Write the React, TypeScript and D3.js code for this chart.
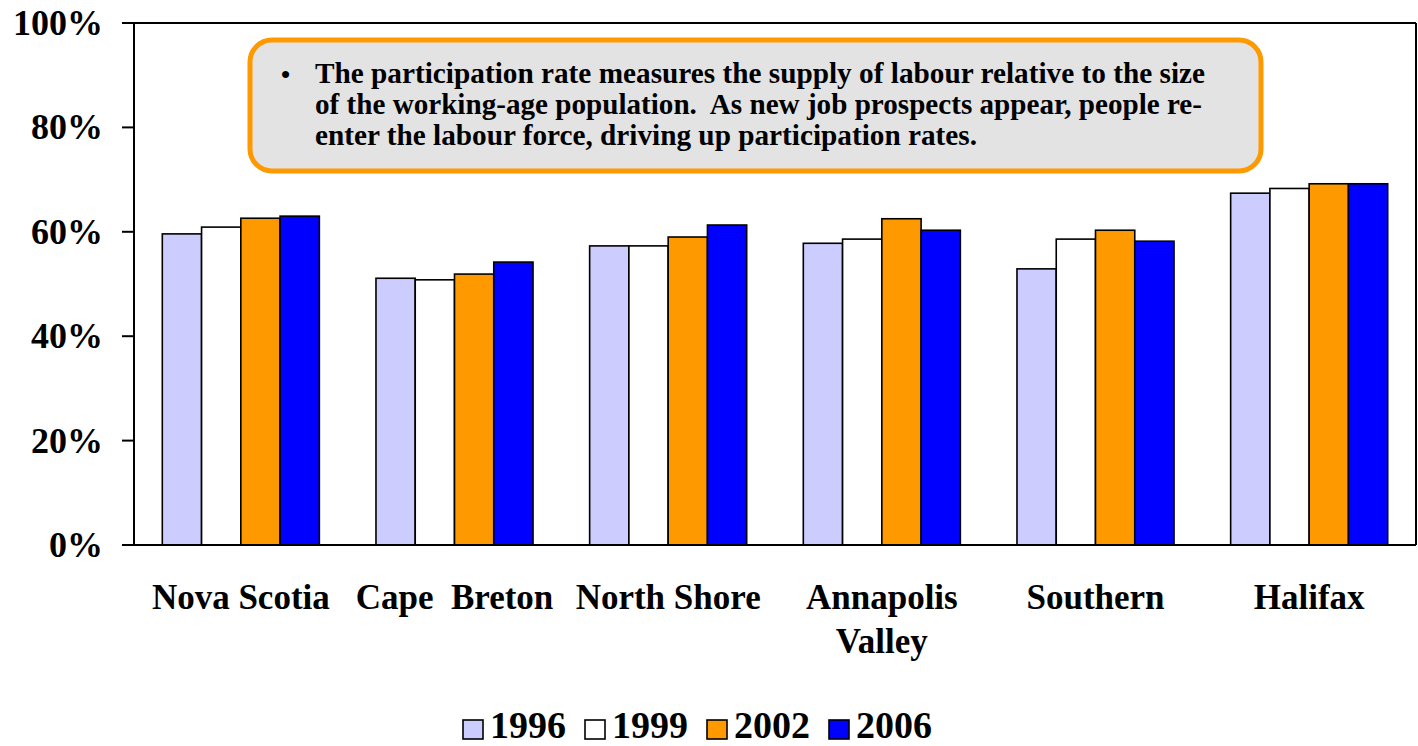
import React from "react";
import * as d3 from "d3";

const categories = ["Nova Scotia", "Cape Breton", "North Shore", "Annapolis Valley", "Southern", "Halifax"];
const categoryLines = [["Nova Scotia"], ["Cape  Breton"], ["North Shore"], ["Annapolis", "Valley"], ["Southern"], ["Halifax"]];
const seriesNames = ["1996", "1999", "2002", "2006"];
const seriesColors = ["#CCCCFF", "#FFFFFF", "#FF9900", "#0000FF"];
const v1996 = [59.6, 51.1, 57.3, 57.8, 52.9, 67.4];
const v1999 = [60.9, 50.8, 57.3, 58.6, 58.6, 68.3];
const v2002 = [62.6, 51.9, 59.0, 62.5, 60.3, 69.2];
const v2006 = [63.0, 54.2, 61.3, 60.3, 58.2, 69.2];
const seriesValues = [v1996, v1999, v2002, v2006];
const yTicks = [0, 20, 40, 60, 80, 100];
const noteLines = [
  "The participation rate measures the supply of labour relative to the size",
  "of the working-age population.  As new job prospects appear, people re-",
  "enter the labour force, driving up participation rates.",
];
const noteWidths = [890, 887, 662];

const FONT = '"Liberation Serif", "Times New Roman", Times, serif';

export default function App() {
  const W = 1418, H = 746;
  const left = 134, right = 1416, top = 23, bottom = 545;
  const x0 = d3.scaleBand<string>().domain(categories).range([left, right]).paddingInner(0.265).paddingOuter(0.1325);
  const x1 = d3.scaleBand<string>().domain(seriesNames).range([0, x0.bandwidth()]).padding(0);
  const y = d3.scaleLinear().domain([0, 100]).range([bottom, top]);

  return (
    <svg width={W} height={H} style={{ position: "absolute", left: 0, top: 0, background: "#fff", fontFamily: FONT, fontWeight: 700 }}>
      {/* bars */}
      {categories.map((c, ci) => (
        <g key={c} transform={`translate(${x0(c)},0)`}>
          {seriesNames.map((s, si) => {
            const v = seriesValues[si][ci];
            return (
              <rect key={s} x={x1(s)} y={y(v)} width={x1.bandwidth()} height={y(0) - y(v)}
                fill={seriesColors[si]} stroke="#000" strokeWidth={1.6} />
            );
          })}
        </g>
      ))}
      {/* frame */}
      <line x1={left} x2={right} y1={top} y2={top} stroke="#000" strokeWidth={2} />
      <line x1={right} x2={right} y1={top} y2={bottom} stroke="#000" strokeWidth={2} />
      <line x1={left} x2={left} y1={top} y2={bottom} stroke="#000" strokeWidth={2} />
      <line x1={left - 12} x2={right} y1={bottom} y2={bottom} stroke="#000" strokeWidth={2} />
      {/* y ticks */}
      {yTicks.map((t) => (
        <g key={t}>
          <line x1={left - 12} x2={left} y1={y(t)} y2={y(t)} stroke="#000" strokeWidth={2} />
          <text x={103} y={y(t) + 12} textAnchor="end" fontSize={36}>{t}%</text>
        </g>
      ))}
      {/* category labels */}
      {categories.map((c, ci) => (
        <text key={c} x={(x0(c) as number) + x0.bandwidth() / 2} y={609} textAnchor="middle" fontSize={35}>
          {categoryLines[ci].map((ln, li) => (
            <tspan key={li} x={(x0(c) as number) + x0.bandwidth() / 2} dy={li === 0 ? 0 : 44} style={{ whiteSpace: "pre" }}>{ln}</tspan>
          ))}
        </text>
      ))}
      {/* annotation */}
      <rect x={250} y={40} width={1011} height={131} rx={22} ry={22} fill="#E3E3E3" stroke="#FF9900" strokeWidth={5} />
      <text x={281} y={83} fontSize={26}>•</text>
      {noteLines.map((ln, i) => (
        <text key={i} x={315} y={83 + i * 31} fontSize={29} textLength={noteWidths[i]} lengthAdjust="spacingAndGlyphs" style={{ whiteSpace: "pre" }}>{ln}</text>
      ))}
      {/* legend */}
      {seriesNames.map((s, i) => (
        <g key={s} transform={`translate(${463 + i * 122},0)`}>
          <rect x={0} y={720} width={20} height={19} fill={seriesColors[i]} stroke="#000" strokeWidth={1.6} />
          <text x={27} y={737.5} fontSize={38}>{s}</text>
        </g>
      ))}
    </svg>
  );
}
